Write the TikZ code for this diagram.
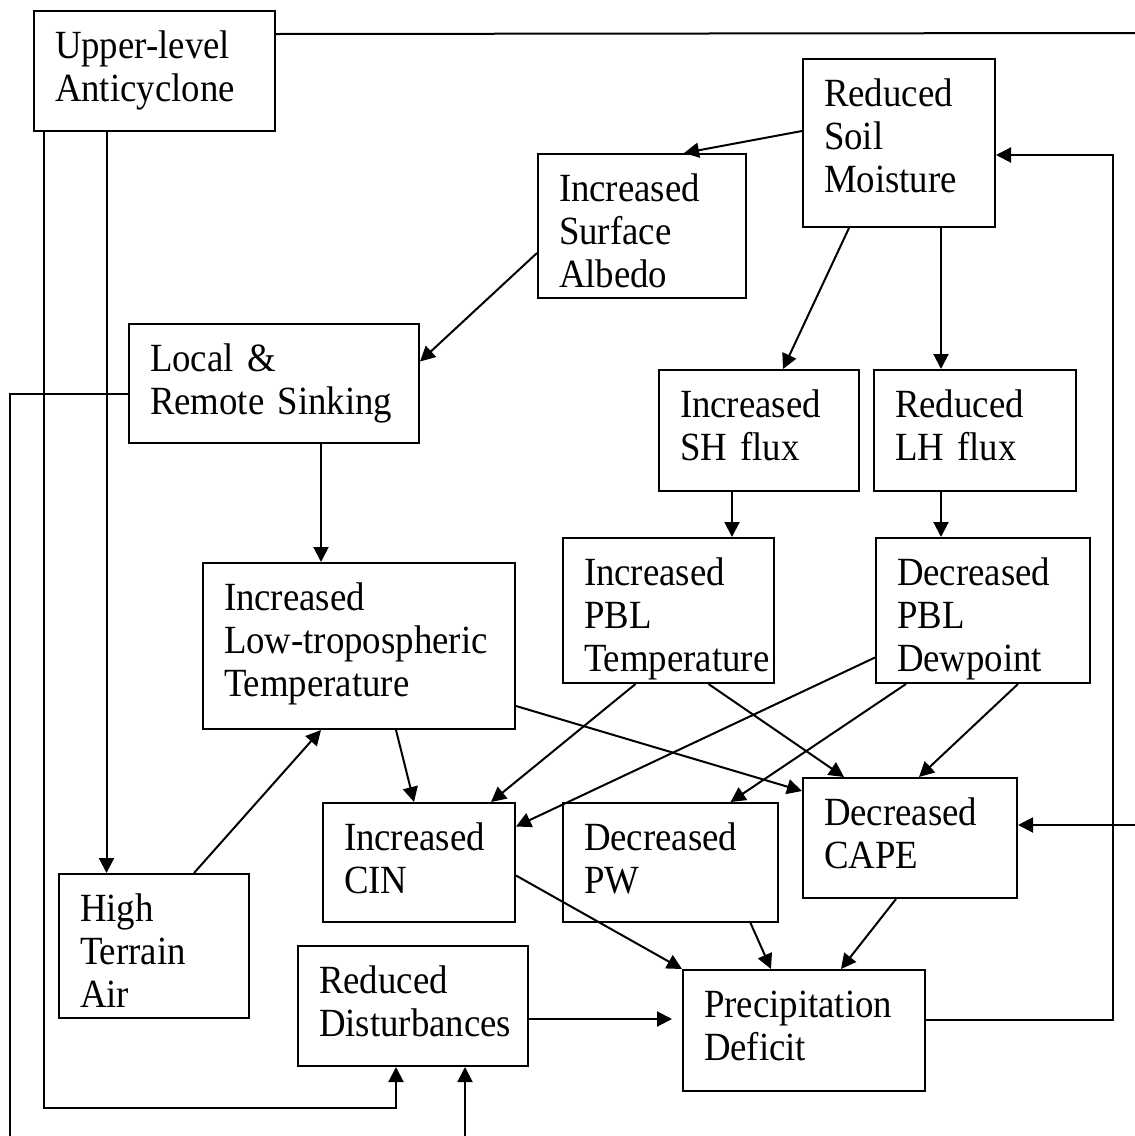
\documentclass[tikz,border=0pt]{standalone}
\usepackage{fontspec}
\setmainfont{Liberation Serif}[FakeStretch=0.92]
\usetikzlibrary{arrows.meta}
\hyphenpenalty=10000
\exhyphenpenalty=10000

\begin{document}
\begin{tikzpicture}[x=1pt, y=-1pt,
  box/.style={draw, line width=2pt, anchor=north west, align=left, inner xsep=21pt, inner ysep=0pt, text height=47pt, font=\fontsize{40}{43}\selectfont},
  arr/.style={line width=2pt, -{Triangle[length=15pt, width=15pt]}},
  link/.style={line width=2pt}]
\useasboundingbox (0,0) rectangle (1135,1136);

% Boxes
\node[box, text width=199pt, text depth=73pt] (anti) at (33,10) {Upper-level\\Anticyclone};
\node[box, text width=150pt, text depth=121pt] (soil) at (802,58) {Reduced\\Soil\\Moisture};
\node[box, text width=166pt, text depth=97pt] (albedo) at (537,153) {Increased\\Surface\\Albedo};
\node[box, text width=248pt, text depth=72pt] (sink) at (128,323) {Local \&\\Remote Sinking};
\node[box, text width=158pt, text depth=74pt] (sh) at (658,369) {Increased\\SH flux};
\node[box, text width=160pt, text depth=74pt] (lh) at (873,369) {Reduced\\LH flux};
\node[box, text width=270pt, text depth=119pt] (lowtrop) at (202,562) {Increased\\Low-tropospheric\\Temperature};
\node[box, text width=169pt, text depth=98pt] (pbltemp) at (562,537) {Increased\\PBL\\Temperature};
\node[box, text width=172pt, text depth=98pt] (dewpt) at (875,537) {Decreased\\PBL\\Dewpoint};
\node[box, text width=150pt, text depth=72pt] (cin) at (322,802) {Increased\\CIN};
\node[box, text width=173pt, text depth=72pt] (pw) at (562,802) {Decreased\\PW};
\node[box, text width=172pt, text depth=73pt] (cape) at (802,777) {Decreased\\CAPE};
\node[box, text width=148pt, text depth=97pt] (terrain) at (58,873) {High\\Terrain\\Air};
\node[box, text width=188pt, text depth=73pt] (dist) at (297,945) {Reduced\\Disturbances};
\node[box, text width=200pt, text depth=74pt] (precip) at (682,969) {Precipitation\\Deficit};

% Soil moisture branch
\draw[arr] ([yshift=12pt]soil.west) -- ([xshift=42pt]albedo.north);
\draw[arr] ([yshift=-27pt]albedo.west) -- ([yshift=22pt]sink.east);
\draw[arr] ([xshift=-50pt]soil.south) -- ([xshift=24pt]sh.north);
\draw[arr] ([xshift=42pt]soil.south) -- ([xshift=42pt]soil.south |- lh.north);
\draw[arr] ([xshift=-27pt]sh.south) -- ([xshift=-27pt]sh.south |- pbltemp.north);
\draw[arr] ([xshift=-34pt]lh.south) -- ([xshift=-34pt]lh.south |- dewpt.north);

% Sinking and low-level warming
\draw[arr] ([xshift=47pt]sink.south) -- ([xshift=47pt]sink.south |- lowtrop.north);
\draw[arr] ([xshift=40pt]terrain.north) -- ([xshift=-38pt]lowtrop.south);
\draw[arr] ([xshift=37pt]lowtrop.south) -- ([xshift=-5pt]cin.north);
\draw[arr] ([yshift=-60pt]lowtrop.east) -- ([yshift=47pt]cape.west);

% PBL effects
\draw[arr] ([xshift=-33pt]pbltemp.south) -- ([xshift=72pt]cin.north);
\draw[arr] ([xshift=40pt]pbltemp.south) -- ([xshift=-66pt]cape.north);
\draw[arr] ([yshift=-47pt]dewpt.west) -- ([yshift=36pt]cin.east);
\draw[arr] ([xshift=-77pt]dewpt.south) -- ([xshift=60pt]pw.north);
\draw[arr] ([xshift=35pt]dewpt.south) -- ([xshift=9pt]cape.north);

% Into the deficit
\draw[arr] ([yshift=-13pt]cin.east) -- (precip.north west);
\draw[arr] ([xshift=80pt]pw.south) -- ([xshift=-33pt]precip.north);
\draw[arr] ([xshift=-14pt]cape.south) -- ([xshift=37pt]precip.north);
\draw[arr, shorten >=10pt] ([yshift=-13pt]dist.east) -- ([yshift=-13pt]dist.east -| precip.west);

% Feedback to soil moisture
\coordinate (loopcorner) at (1113,155);
\draw[arr] ([yshift=11pt]precip.east) -| (loopcorner) -- (loopcorner -| soil.east);

% Anticyclone lines
\coordinate (topedge) at (1135,33);
\draw[link] ([yshift=37pt]anti.east) -- (topedge);
\coordinate (capein) at (1135,825);
\draw[arr] (capein) -- (capein -| cape.east);
\draw[arr] ([xshift=-48pt]anti.south) -- ([xshift=-48pt]anti.south |- terrain.north);
\coordinate (anticorner) at (44,1108);
\draw[arr] (anticorner |- anti.south) -- (anticorner) -| ([xshift=-17pt]dist.south);

% Lines off the page
\coordinate (sinkcorner) at (10,1136);
\draw[link] ([yshift=-10pt]sink.west) -| (sinkcorner);
\coordinate (distin) at (465,1136);
\draw[arr] (distin) -- (distin |- dist.south);

\end{tikzpicture}
\end{document}
